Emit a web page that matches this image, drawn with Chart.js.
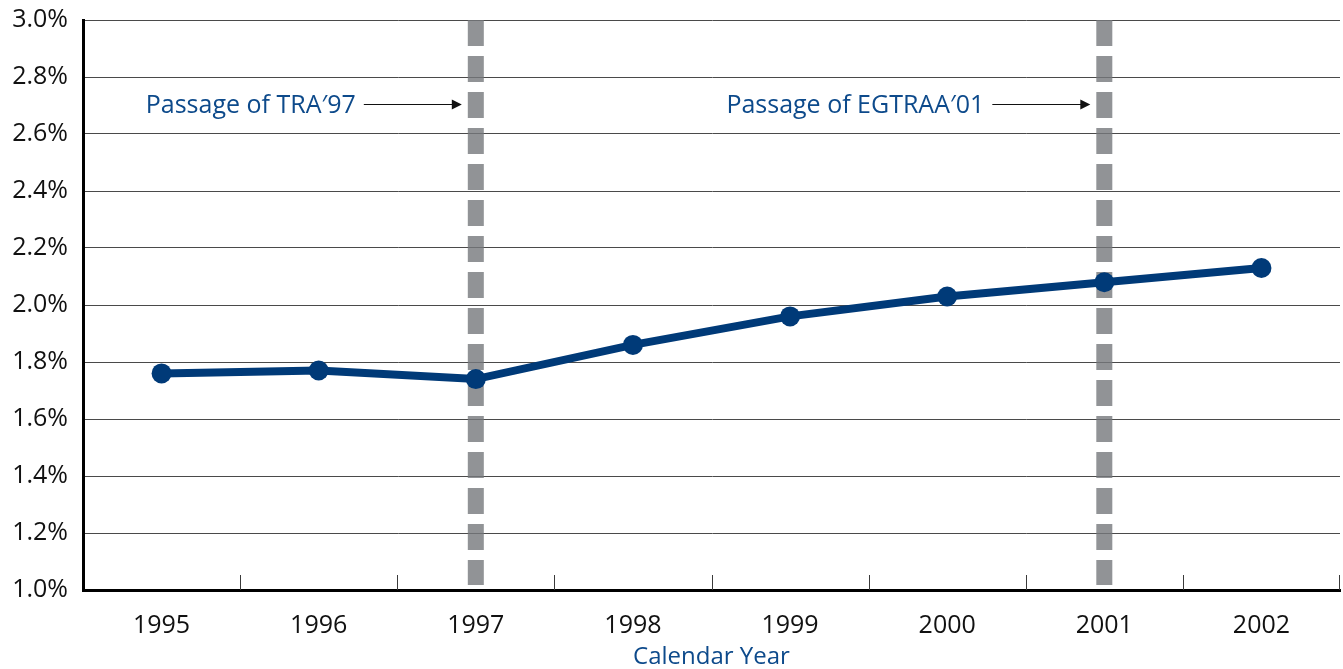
<!DOCTYPE html>
<html>
<head>
<meta charset="utf-8">
<title>Calendar Year</title>
<script src="https://cdn.jsdelivr.net/npm/chart.js@4/dist/chart.umd.min.js"></script>
<style>
  html, body { margin: 0; padding: 0; background: #ffffff; overflow: hidden; }
  #wrap { width: 1343px; height: 669px; position: relative; }
  canvas { display: block; }
</style>
</head>
<body>
<div id="wrap"><canvas id="chart"></canvas></div>
<script>
// Calendar years on the category axis
const years = ['1995', '1996', '1997', '1998', '1999', '2000', '2001', '2002'];
// Percentage for each year
const rates = [1.76, 1.77, 1.74, 1.86, 1.96, 2.03, 2.08, 2.13];
// Years marked with a dashed vertical line
const markerYears = ['1997', '2001'];
// Captions pointing at each marked year
const markerNotes = ['Passage of TRA\u203297', 'Passage of EGTRAA\u203201'];
// Height (in axis units) at which the captions sit
const noteLevel = 2.705;
// Value axis range and step
const yMin = 1.0, yMax = 3.0, yStep = 0.2;

const FONT = '"Open Sans", "Noto Sans", sans-serif';
const BLUE = '#003a78';
const TEXT_BLUE = '#0d4a8b';

// Dashed vertical markers, drawn beneath the data line
const markerLines = {
  id: 'markerLines',
  beforeDatasetsDraw(chart) {
    const { ctx, chartArea, scales: { x } } = chart;
    ctx.save();
    ctx.strokeStyle = 'rgba(118,120,124,0.8)';
    ctx.lineWidth = 16;
    ctx.setLineDash([26, 10]);
    markerYears.forEach(yr => {
      const px = x.getPixelForValue(years.indexOf(yr));
      ctx.beginPath();
      ctx.moveTo(px, chartArea.top);
      ctx.lineTo(px, chartArea.bottom - 5);
      ctx.stroke();
    });
    ctx.restore();
  }
};

// Captions with arrows, and short category-boundary ticks on the baseline
const notesAndTicks = {
  id: 'notesAndTicks',
  afterDatasetsDraw(chart) {
    const { ctx, chartArea, scales: { x, y } } = chart;
    ctx.save();
    // boundary ticks
    ctx.strokeStyle = '#3a3a3a';
    ctx.lineWidth = 1;
    for (let i = 0; i < years.length; i++) {
      const a = x.getPixelForValue(i);
      const b = i < years.length - 1 ? x.getPixelForValue(i + 1) : null;
      const bx = b === null ? chartArea.right - 0.5 : Math.round((a + b) / 2) + 0.5;
      ctx.beginPath();
      ctx.moveTo(bx, chartArea.bottom - 15);
      ctx.lineTo(bx, chartArea.bottom);
      ctx.stroke();
    }
    // captions
    const ny = Math.round(y.getPixelForValue(noteLevel)) + 0.5;
    markerYears.forEach((yr, k) => {
      const px = x.getPixelForValue(years.indexOf(yr));
      const tipX = px - 14;
      const tailX = tipX - 98;
      ctx.strokeStyle = '#111111';
      ctx.fillStyle = '#111111';
      ctx.lineWidth = 1.2;
      ctx.beginPath();
      ctx.moveTo(tailX, ny);
      ctx.lineTo(tipX - 8, ny);
      ctx.stroke();
      ctx.beginPath();
      ctx.moveTo(tipX, ny);
      ctx.lineTo(tipX - 10, ny - 5);
      ctx.lineTo(tipX - 10, ny + 5);
      ctx.closePath();
      ctx.fill();
      ctx.font = '500 25px ' + FONT;
      ctx.fillStyle = TEXT_BLUE;
      ctx.textAlign = 'right';
      ctx.textBaseline = 'middle';
      ctx.fillText(markerNotes[k], tailX - 8, ny + 1);
    });
    ctx.restore();
  }
};

new Chart(document.getElementById('chart'), {
  type: 'line',
  data: {
    labels: years,
    datasets: [{
      data: rates,
      borderColor: BLUE,
      backgroundColor: BLUE,
      borderWidth: 8,
      pointRadius: 10,
      pointHoverRadius: 10,
      pointBackgroundColor: BLUE,
      pointBorderWidth: 0,
      tension: 0,
      fill: false
    }]
  },
  options: {
    responsive: true,
    maintainAspectRatio: false,
    animation: false,
    events: [],
    layout: { autoPadding: false, padding: { top: 20, right: 3, left: 0, bottom: 0 } },
    plugins: {
      legend: { display: false },
      tooltip: { enabled: false },
      title: { display: false }
    },
    scales: {
      x: {
        type: 'category',
        offset: true,
        grid: { display: true, drawOnChartArea: false, drawTicks: false },
        border: { display: true, color: '#000000', width: 3 },
        ticks: {
          color: '#111111',
          font: { family: FONT, size: 25, weight: '500' },
          padding: 21,
          maxRotation: 0
        },
        title: {
          display: true,
          text: 'Calendar Year',
          color: TEXT_BLUE,
          font: { family: FONT, size: 24, weight: '500', lineHeight: 1.0 },
          padding: { top: 0, bottom: 0 }
        },
        afterFit(scale) {
          scale.height = 79;
          scale.paddingLeft = 0;
          scale.paddingRight = 0;
        }
      },
      y: {
        min: yMin,
        max: yMax,
        grid: { color: '#4a4a4a', lineWidth: 1, drawTicks: false },
        border: { display: true, color: '#000000', width: 3 },
        ticks: {
          stepSize: yStep,
          color: '#111111',
          font: { family: FONT, size: 25, weight: '500' },
          padding: 15,
          callback: v => Number(v).toFixed(1) + '%'
        },
        afterFit(scale) {
          scale.width = 83;
          scale.paddingTop = 0;
          scale.paddingBottom = 0;
        }
      }
    }
  },
  plugins: [markerLines, notesAndTicks]
});
</script>
</body>
</html>
